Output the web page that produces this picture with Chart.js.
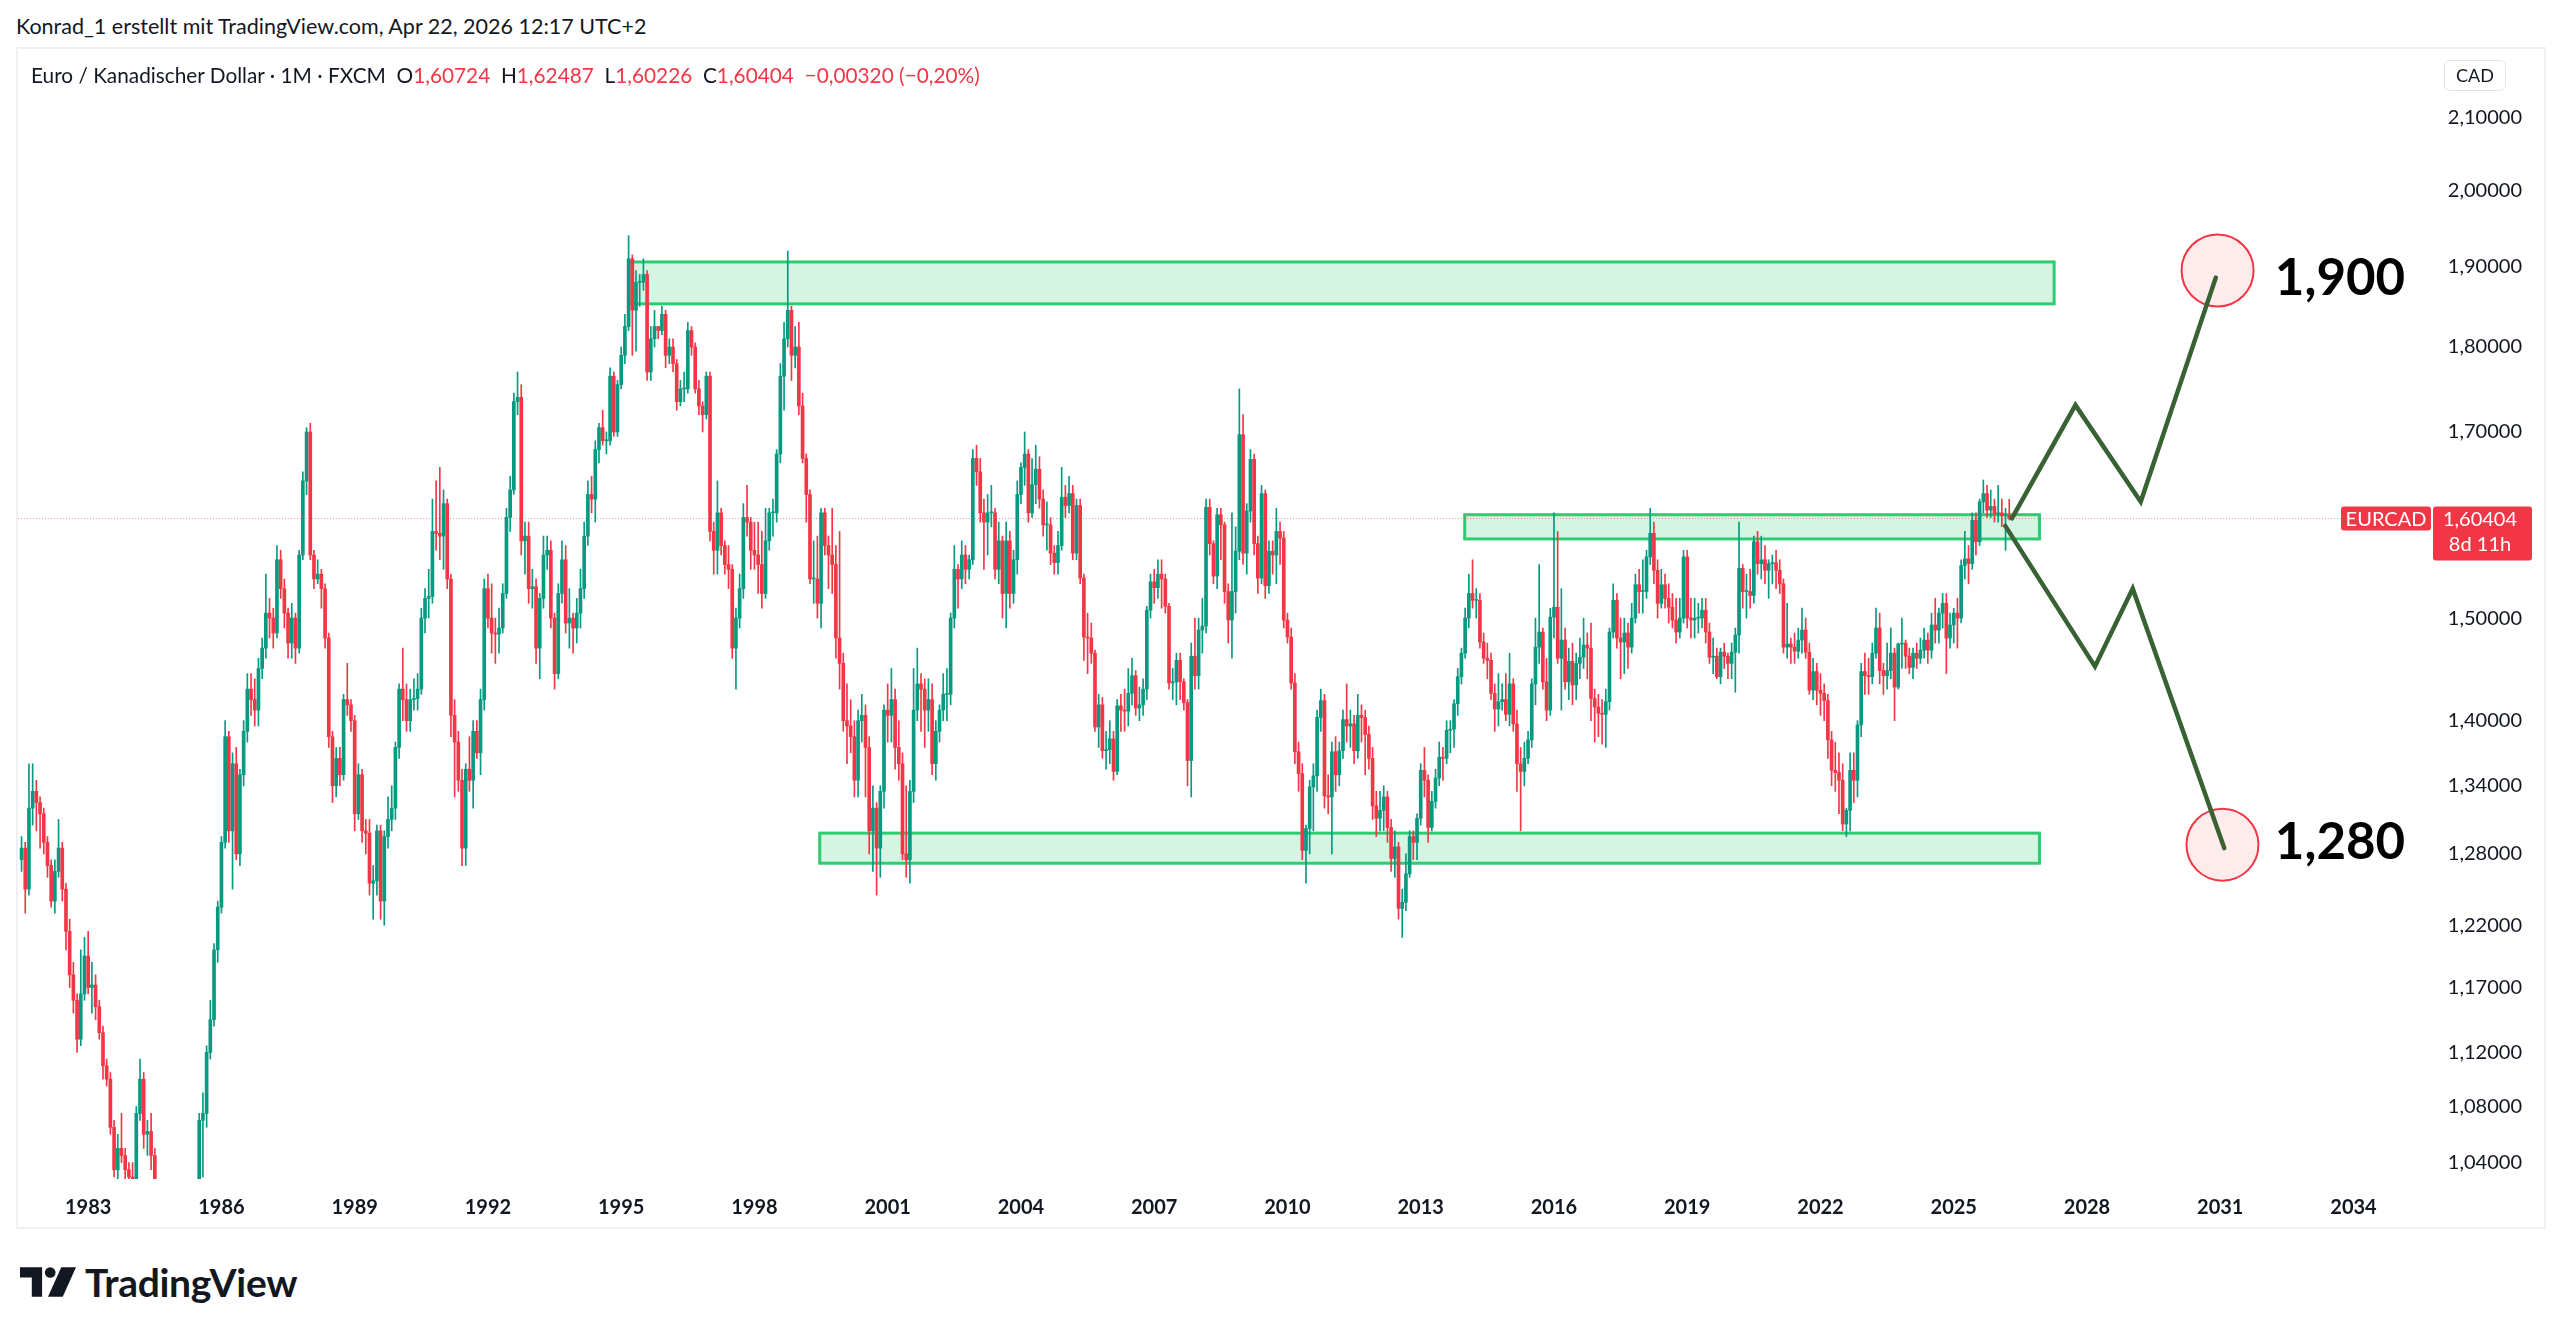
<!DOCTYPE html>
<html>
<head>
<meta charset="utf-8">
<title>EURCAD 1M</title>
<script src="https://cdn.jsdelivr.net/npm/chart.js@4.4.1/dist/chart.umd.min.js"></script>
<style>
    body { margin: 0; width: 2560px; height: 1335px; background: #fff; position: relative; overflow: hidden;
           font-family: Lato, "Open Sans", sans-serif; color: #131722; }
    #author { position: absolute; left: 16px; top: 13px; font-size: 21.5px; line-height: 26px; }
    #frame { position: absolute; left: 16px; top: 47px; width: 2530px; height: 1182px; box-sizing: border-box;
             border: 2px solid #eef0f3; }
    #wrap { position: absolute; left: 18px; top: 50px; width: 2527px; height: 1176px; }
    #legend { position: absolute; left: 31px; top: 62px; font-size: 20.8px; line-height: 26px; white-space: pre; }
    #legend .r { color: #f23645; }
    #cad { position: absolute; left: 2444px; top: 60px; width: 62px; height: 31px; box-sizing: border-box;
           border: 1px solid #e0e3eb; border-radius: 6px; font-size: 18px; line-height: 29px; text-align: center; }
    #logo { position: absolute; left: 20px; top: 1262px; height: 40px; display: flex; align-items: center; }
    #logo span { font-size: 39px; font-weight: 700; margin-left: 9px; letter-spacing: -0.3px; }
</style>
</head>
<body>

<div id="author">Konrad_1 erstellt mit TradingView.com, Apr 22, 2026 12:17 UTC+2</div>
<div id="frame"></div>
<div id="wrap"><canvas id="eurcadChart"></canvas></div>
<div id="legend">Euro / Kanadischer Dollar · 1M · FXCM  O<span class="r">1,60724</span>  H<span class="r">1,62487</span>  L<span class="r">1,60226</span>  C<span class="r">1,60404</span>  <span class="r">−0,00320 (−0,20%)</span></div>
<div id="cad">CAD</div>
<div id="logo">
    <svg width="56" height="30" viewBox="0 0 38 20">
        <path d="M0 0 H15 V20 H8 V7 H0 Z" fill="#131722"/>
        <circle cx="20.5" cy="3.6" r="3.6" fill="#131722"/>
        <path d="M28 0 H38 L29 20 H19 Z" fill="#131722"/>
    </svg>
    <span>TradingView</span>
</div>

<script>
// monthly candles, first one = Jul 1981
const firstMonth = 1981.5;
const firstOpen = 1.275;

const closes = [
    1.285, 1.25, 1.32, 1.335, 1.325, 1.315,
    1.29, 1.27, 1.24, 1.265, 1.285, 1.25, 1.215, 1.18, 1.16, 1.13, 1.165, 1.195,
    1.17, 1.172, 1.155, 1.135, 1.11, 1.10, 1.065, 1.035, 1.05, 1.045, 1.035, 1.03,
    1.02, 1.075, 1.10, 1.06, 1.062, 1.045, 1.00, 0.99, 0.97, 0.98, 0.96, 0.95,
    0.94, 0.96, 0.95, 0.93, 0.95, 0.98, 1.07, 1.075, 1.12, 1.145, 1.20, 1.235,
    1.29, 1.385, 1.30, 1.36, 1.28, 1.35, 1.39, 1.43, 1.42, 1.41, 1.45, 1.47,
    1.505, 1.50, 1.485, 1.56, 1.53, 1.505, 1.475, 1.50, 1.47, 1.565, 1.645, 1.70,
    1.565, 1.54, 1.545, 1.53, 1.48, 1.385, 1.34, 1.365, 1.35, 1.42, 1.415, 1.40,
    1.315, 1.35, 1.30, 1.298, 1.255, 1.257, 1.30, 1.24, 1.295, 1.31, 1.32, 1.375,
    1.43, 1.42, 1.40, 1.42, 1.421, 1.43, 1.50, 1.52, 1.522, 1.59, 1.588, 1.585,
    1.62, 1.54, 1.405, 1.38, 1.345, 1.285, 1.355, 1.345, 1.39, 1.37, 1.42, 1.53,
    1.50, 1.485, 1.484, 1.49, 1.525, 1.605, 1.635, 1.735, 1.74, 1.58, 1.585, 1.53,
    1.532, 1.47, 1.52, 1.565, 1.57, 1.50, 1.445, 1.525, 1.56, 1.495, 1.50, 1.49,
    1.505, 1.53, 1.585, 1.63, 1.625, 1.68, 1.705, 1.69, 1.69, 1.765, 1.70, 1.755,
    1.79, 1.825, 1.91, 1.845, 1.88, 1.88, 1.89, 1.77, 1.81, 1.825, 1.82, 1.84,
    1.79, 1.80, 1.78, 1.735, 1.75, 1.75, 1.82, 1.80, 1.75, 1.73, 1.72, 1.765,
    1.59, 1.57, 1.61, 1.575, 1.555, 1.55, 1.47, 1.50, 1.53, 1.605, 1.60, 1.57,
    1.565, 1.555, 1.525, 1.58, 1.61, 1.61, 1.675, 1.765, 1.81, 1.845, 1.79, 1.80,
    1.73, 1.67, 1.63, 1.54, 1.54, 1.515, 1.61, 1.575, 1.565, 1.555, 1.48, 1.455,
    1.40, 1.395, 1.385, 1.345, 1.40, 1.405, 1.375, 1.30, 1.32, 1.285, 1.335, 1.41,
    1.405, 1.42, 1.375, 1.36, 1.28, 1.275, 1.335, 1.41, 1.435, 1.43, 1.41, 1.42,
    1.36, 1.39, 1.41, 1.425, 1.425, 1.50, 1.55, 1.54, 1.565, 1.55, 1.56, 1.67,
    1.655, 1.61, 1.60, 1.61, 1.61, 1.55, 1.58, 1.525, 1.58, 1.525, 1.56, 1.63,
    1.66, 1.675, 1.61, 1.641, 1.658, 1.625, 1.597, 1.597, 1.567, 1.557, 1.575, 1.627,
    1.618, 1.631, 1.567, 1.618, 1.541, 1.481, 1.48, 1.465, 1.394, 1.415, 1.372, 1.373,
    1.383, 1.353, 1.414, 1.41, 1.409, 1.426, 1.443, 1.412, 1.415, 1.43, 1.508, 1.537,
    1.531, 1.545, 1.54, 1.512, 1.436, 1.437, 1.458, 1.437, 1.417, 1.363, 1.462, 1.443,
    1.488, 1.492, 1.616, 1.577, 1.543, 1.608, 1.597, 1.527, 1.498, 1.527, 1.569, 1.697,
    1.567, 1.612, 1.669, 1.577, 1.541, 1.631, 1.533, 1.569, 1.565, 1.59, 1.583, 1.498,
    1.481, 1.436, 1.371, 1.351, 1.283, 1.302, 1.339, 1.349, 1.403, 1.419, 1.331, 1.33,
    1.371, 1.35, 1.372, 1.401, 1.395, 1.397, 1.372, 1.405, 1.403, 1.387, 1.365, 1.322,
    1.311, 1.318, 1.33, 1.303, 1.276, 1.286, 1.234, 1.239, 1.263, 1.295, 1.29, 1.311,
    1.354, 1.345, 1.303, 1.326, 1.347, 1.366, 1.365, 1.391, 1.392, 1.416, 1.442, 1.465,
    1.50, 1.525, 1.518, 1.518, 1.476, 1.46, 1.458, 1.426, 1.411, 1.418, 1.42, 1.406,
    1.435, 1.397, 1.36, 1.353, 1.365, 1.382, 1.435, 1.471, 1.486, 1.437, 1.41, 1.501,
    1.511, 1.46, 1.478, 1.437, 1.457, 1.434, 1.455, 1.461, 1.473, 1.47, 1.421, 1.413,
    1.407, 1.406, 1.418, 1.486, 1.518, 1.48, 1.476, 1.485, 1.471, 1.50, 1.534, 1.527,
    1.527, 1.563, 1.588, 1.549, 1.515, 1.534, 1.52, 1.511, 1.498, 1.486, 1.50, 1.563,
    1.50, 1.498, 1.50, 1.50, 1.508, 1.486, 1.461, 1.462, 1.442, 1.466, 1.462, 1.455,
    1.466, 1.483, 1.551, 1.527, 1.527, 1.523, 1.579, 1.556, 1.56, 1.549, 1.556, 1.557,
    1.549, 1.535, 1.471, 1.474, 1.471, 1.467, 1.478, 1.488, 1.466, 1.429, 1.447, 1.429,
    1.426, 1.419, 1.382, 1.354, 1.352, 1.345, 1.306, 1.318, 1.354, 1.345, 1.396, 1.447,
    1.443, 1.442, 1.465, 1.49, 1.448, 1.443, 1.448, 1.465, 1.432, 1.474, 1.475, 1.462,
    1.451, 1.465, 1.46, 1.468, 1.478, 1.468, 1.493, 1.488, 1.505, 1.515, 1.48, 1.493,
    1.505, 1.50, 1.554, 1.561, 1.556, 1.602, 1.579, 1.622, 1.631, 1.613, 1.617, 1.609,
    1.61, 1.607, 1.60724, 1.60404
];

const highs = [
    1.295, 1.29, 1.36, 1.36, 1.345, 1.33,
    1.32, 1.295, 1.275, 1.275, 1.31, 1.29, 1.255, 1.225, 1.19, 1.165, 1.20, 1.21,
    1.215, 1.19, 1.18, 1.16, 1.14, 1.115, 1.105, 1.07, 1.06, 1.075, 1.05, 1.04,
    1.04, 1.08, 1.115, 1.105, 1.07, 1.075, 1.05, 1.01, 1.00, 0.99, 0.985, 0.97,
    0.96, 0.97, 0.97, 0.955, 0.96, 0.99, 1.075, 1.09, 1.125, 1.16, 1.205, 1.24,
    1.295, 1.40, 1.39, 1.37, 1.375, 1.355, 1.40, 1.445, 1.445, 1.44, 1.46, 1.48,
    1.545, 1.52, 1.51, 1.575, 1.57, 1.54, 1.51, 1.515, 1.505, 1.57, 1.655, 1.705,
    1.71, 1.57, 1.56, 1.55, 1.535, 1.485, 1.39, 1.375, 1.375, 1.425, 1.455, 1.42,
    1.405, 1.36, 1.355, 1.31, 1.31, 1.27, 1.305, 1.305, 1.30, 1.33, 1.34, 1.38,
    1.435, 1.47, 1.435, 1.43, 1.44, 1.445, 1.51, 1.53, 1.55, 1.625, 1.645, 1.66,
    1.635, 1.625, 1.545, 1.42, 1.39, 1.355, 1.36, 1.385, 1.40, 1.40, 1.43, 1.54,
    1.545, 1.535, 1.50, 1.51, 1.535, 1.615, 1.65, 1.745, 1.77, 1.755, 1.60, 1.60,
    1.55, 1.54, 1.525, 1.585, 1.585, 1.58, 1.505, 1.535, 1.58, 1.575, 1.53, 1.505,
    1.52, 1.55, 1.60, 1.645, 1.65, 1.69, 1.71, 1.725, 1.70, 1.775, 1.77, 1.76,
    1.80, 1.84, 1.94, 1.915, 1.895, 1.89, 1.91, 1.895, 1.825, 1.845, 1.825, 1.85,
    1.845, 1.81, 1.81, 1.785, 1.76, 1.77, 1.83, 1.825, 1.805, 1.76, 1.735, 1.77,
    1.77, 1.60, 1.645, 1.615, 1.58, 1.575, 1.555, 1.51, 1.545, 1.62, 1.64, 1.605,
    1.60, 1.60, 1.59, 1.615, 1.615, 1.625, 1.68, 1.78, 1.83, 1.92, 1.85, 1.825,
    1.83, 1.745, 1.675, 1.635, 1.58, 1.585, 1.615, 1.615, 1.585, 1.615, 1.575, 1.59,
    1.465, 1.435, 1.42, 1.40, 1.41, 1.425, 1.415, 1.385, 1.34, 1.325, 1.34, 1.415,
    1.435, 1.45, 1.43, 1.40, 1.37, 1.34, 1.345, 1.45, 1.47, 1.445, 1.44, 1.44,
    1.435, 1.40, 1.415, 1.445, 1.45, 1.505, 1.575, 1.555, 1.58, 1.575, 1.565, 1.68,
    1.685, 1.67, 1.625, 1.63, 1.64, 1.615, 1.60, 1.585, 1.60, 1.59, 1.57, 1.645,
    1.665, 1.70, 1.68, 1.67, 1.685, 1.672, 1.635, 1.622, 1.605, 1.575, 1.59, 1.66,
    1.64, 1.65, 1.64, 1.625, 1.625, 1.545, 1.505, 1.495, 1.468, 1.425, 1.422, 1.39,
    1.40, 1.39, 1.42, 1.425, 1.43, 1.45, 1.46, 1.448, 1.432, 1.44, 1.512, 1.545,
    1.55, 1.56, 1.56, 1.545, 1.515, 1.45, 1.465, 1.465, 1.44, 1.42, 1.475, 1.50,
    1.50, 1.52, 1.625, 1.625, 1.58, 1.615, 1.615, 1.60, 1.535, 1.61, 1.595, 1.75,
    1.72, 1.62, 1.68, 1.675, 1.585, 1.64, 1.635, 1.58, 1.58, 1.615, 1.60, 1.59,
    1.505, 1.49, 1.445, 1.38, 1.36, 1.305, 1.345, 1.36, 1.41, 1.43, 1.425, 1.35,
    1.38, 1.385, 1.38, 1.41, 1.435, 1.41, 1.405, 1.425, 1.415, 1.41, 1.395, 1.375,
    1.335, 1.335, 1.34, 1.335, 1.31, 1.30, 1.29, 1.25, 1.28, 1.30, 1.30, 1.315,
    1.36, 1.375, 1.35, 1.335, 1.355, 1.38, 1.375, 1.40, 1.40, 1.42, 1.45, 1.47,
    1.51, 1.545, 1.56, 1.53, 1.525, 1.485, 1.475, 1.465, 1.435, 1.445, 1.435, 1.445,
    1.465, 1.44, 1.41, 1.375, 1.38, 1.39, 1.44, 1.50, 1.555, 1.49, 1.46, 1.51,
    1.61, 1.59, 1.53, 1.49, 1.47, 1.475, 1.465, 1.48, 1.50, 1.485, 1.495, 1.43,
    1.425, 1.42, 1.43, 1.49, 1.535, 1.525, 1.50, 1.50, 1.495, 1.515, 1.545, 1.55,
    1.56, 1.57, 1.615, 1.60, 1.56, 1.55, 1.545, 1.535, 1.525, 1.52, 1.52, 1.57,
    1.57, 1.52, 1.52, 1.515, 1.52, 1.52, 1.495, 1.48, 1.47, 1.47, 1.475, 1.465,
    1.475, 1.49, 1.60, 1.555, 1.545, 1.55, 1.585, 1.59, 1.585, 1.575, 1.56, 1.565,
    1.57, 1.56, 1.54, 1.515, 1.48, 1.485, 1.49, 1.51, 1.50, 1.475, 1.46, 1.455,
    1.445, 1.435, 1.425, 1.39, 1.38, 1.37, 1.36, 1.32, 1.37, 1.37, 1.40, 1.455,
    1.465, 1.46, 1.475, 1.51, 1.505, 1.455, 1.475, 1.49, 1.47, 1.475, 1.50, 1.478,
    1.47, 1.47, 1.475, 1.48, 1.49, 1.485, 1.505, 1.52, 1.51, 1.525, 1.525, 1.505,
    1.51, 1.52, 1.56, 1.59, 1.575, 1.61, 1.61, 1.625, 1.646, 1.64, 1.635, 1.625,
    1.64, 1.625, 1.615, 1.62487
];

const lows = [
    1.265, 1.23, 1.245, 1.305, 1.30, 1.285,
    1.28, 1.26, 1.235, 1.23, 1.26, 1.24, 1.20, 1.17, 1.15, 1.12, 1.125, 1.16,
    1.165, 1.15, 1.145, 1.13, 1.10, 1.095, 1.06, 1.03, 1.025, 1.04, 1.02, 1.02,
    1.01, 1.015, 1.07, 1.05, 1.045, 1.035, 0.99, 0.98, 0.96, 0.96, 0.95, 0.94,
    0.93, 0.93, 0.94, 0.92, 0.925, 0.945, 0.975, 1.03, 1.065, 1.115, 1.14, 1.19,
    1.23, 1.285, 1.29, 1.25, 1.275, 1.27, 1.34, 1.38, 1.405, 1.395, 1.395, 1.44,
    1.46, 1.48, 1.47, 1.48, 1.52, 1.49, 1.46, 1.46, 1.455, 1.465, 1.56, 1.63,
    1.56, 1.53, 1.535, 1.51, 1.47, 1.375, 1.325, 1.33, 1.34, 1.345, 1.405, 1.39,
    1.30, 1.31, 1.29, 1.28, 1.245, 1.225, 1.245, 1.225, 1.22, 1.285, 1.30, 1.31,
    1.365, 1.40, 1.39, 1.39, 1.41, 1.41, 1.425, 1.485, 1.50, 1.515, 1.57, 1.56,
    1.55, 1.53, 1.385, 1.33, 1.335, 1.27, 1.27, 1.335, 1.32, 1.365, 1.35, 1.41,
    1.49, 1.465, 1.455, 1.465, 1.485, 1.52, 1.59, 1.63, 1.72, 1.565, 1.545, 1.515,
    1.51, 1.455, 1.44, 1.51, 1.55, 1.49, 1.43, 1.44, 1.515, 1.485, 1.47, 1.465,
    1.475, 1.49, 1.52, 1.575, 1.61, 1.60, 1.665, 1.685, 1.675, 1.685, 1.695, 1.695,
    1.75, 1.78, 1.82, 1.79, 1.795, 1.85, 1.87, 1.76, 1.76, 1.80, 1.81, 1.815,
    1.775, 1.78, 1.77, 1.725, 1.73, 1.735, 1.745, 1.79, 1.745, 1.72, 1.70, 1.715,
    1.58, 1.545, 1.545, 1.565, 1.545, 1.53, 1.46, 1.43, 1.49, 1.52, 1.585, 1.55,
    1.55, 1.525, 1.51, 1.52, 1.57, 1.585, 1.60, 1.665, 1.725, 1.80, 1.76, 1.775,
    1.72, 1.665, 1.60, 1.535, 1.515, 1.50, 1.49, 1.565, 1.53, 1.525, 1.46, 1.43,
    1.39, 1.36, 1.37, 1.33, 1.33, 1.38, 1.33, 1.28, 1.265, 1.245, 1.26, 1.32,
    1.38, 1.38, 1.355, 1.345, 1.275, 1.26, 1.255, 1.325, 1.40, 1.39, 1.375, 1.39,
    1.35, 1.345, 1.38, 1.40, 1.40, 1.415, 1.49, 1.51, 1.53, 1.535, 1.54, 1.555,
    1.64, 1.60, 1.55, 1.565, 1.595, 1.54, 1.535, 1.50, 1.49, 1.51, 1.515, 1.545,
    1.62, 1.64, 1.60, 1.605, 1.62, 1.615, 1.585, 1.57, 1.555, 1.545, 1.545, 1.57,
    1.605, 1.61, 1.56, 1.56, 1.535, 1.458, 1.445, 1.455, 1.39, 1.375, 1.365, 1.355,
    1.36, 1.345, 1.35, 1.39, 1.39, 1.395, 1.415, 1.405, 1.40, 1.405, 1.42, 1.50,
    1.515, 1.52, 1.51, 1.505, 1.43, 1.42, 1.415, 1.42, 1.41, 1.34, 1.33, 1.43,
    1.43, 1.465, 1.485, 1.565, 1.535, 1.53, 1.56, 1.515, 1.475, 1.46, 1.505, 1.56,
    1.555, 1.545, 1.60, 1.565, 1.525, 1.535, 1.52, 1.525, 1.545, 1.535, 1.555, 1.49,
    1.475, 1.43, 1.36, 1.335, 1.275, 1.255, 1.28, 1.30, 1.335, 1.39, 1.32, 1.315,
    1.28, 1.335, 1.34, 1.365, 1.38, 1.375, 1.36, 1.365, 1.38, 1.35, 1.355, 1.31,
    1.295, 1.30, 1.30, 1.29, 1.265, 1.26, 1.225, 1.21, 1.232, 1.26, 1.275, 1.275,
    1.305, 1.33, 1.29, 1.30, 1.32, 1.34, 1.345, 1.36, 1.37, 1.375, 1.405, 1.435,
    1.46, 1.49, 1.51, 1.50, 1.47, 1.455, 1.44, 1.42, 1.39, 1.395, 1.41, 1.40,
    1.395, 1.39, 1.335, 1.30, 1.34, 1.36, 1.375, 1.415, 1.455, 1.43, 1.40, 1.405,
    1.48, 1.455, 1.41, 1.43, 1.42, 1.415, 1.42, 1.44, 1.45, 1.44, 1.40, 1.38,
    1.385, 1.378, 1.375, 1.41, 1.48, 1.47, 1.44, 1.445, 1.45, 1.465, 1.495, 1.505,
    1.505, 1.52, 1.555, 1.535, 1.50, 1.51, 1.51, 1.495, 1.49, 1.475, 1.48, 1.495,
    1.49, 1.48, 1.48, 1.485, 1.49, 1.475, 1.455, 1.445, 1.44, 1.435, 1.45, 1.44,
    1.44, 1.427, 1.465, 1.51, 1.50, 1.51, 1.515, 1.545, 1.54, 1.535, 1.52, 1.535,
    1.53, 1.525, 1.465, 1.46, 1.455, 1.455, 1.46, 1.465, 1.46, 1.425, 1.42, 1.415,
    1.405, 1.40, 1.365, 1.34, 1.335, 1.315, 1.30, 1.295, 1.30, 1.325, 1.33, 1.385,
    1.425, 1.425, 1.435, 1.46, 1.435, 1.425, 1.43, 1.44, 1.40, 1.43, 1.45, 1.45,
    1.445, 1.44, 1.45, 1.455, 1.46, 1.455, 1.46, 1.475, 1.475, 1.49, 1.445, 1.47,
    1.475, 1.47, 1.495, 1.54, 1.535, 1.55, 1.565, 1.575, 1.61, 1.605, 1.605, 1.60,
    1.60, 1.595, 1.57, 1.60226
];

// axis ticks
const priceTicks = [1.04, 1.08, 1.12, 1.17, 1.22, 1.28, 1.34, 1.40, 1.50, 1.70, 1.80, 1.90, 2.00, 2.10];
const yearTicks = [1983, 1986, 1989, 1992, 1995, 1998, 2001, 2004, 2007, 2010, 2013, 2016, 2019, 2022, 2025, 2028, 2031, 2034];

// drawings: rectangles (time from/to, price low/high)
const zoneFrom = [1995.17, 2013.99, 1999.47];
const zoneTo = [2027.26, 2026.93, 2026.93];
const zoneLow = [1.853, 1.582, 1.272];
const zoneHigh = [1.906, 1.608, 1.298];

// drawn paths
const upPathTime = [2026.31, 2027.74, 2029.21, 2030.90];
const upPathPrice = [1.604, 1.731, 1.622, 1.886];
const downPathTime = [2026.16, 2028.18, 2029.03, 2031.09];
const downPathPrice = [1.596, 1.452, 1.530, 1.285];

// target circles and their labels
const targetTime = [2030.94, 2031.05];
const targetPrice = [1.895, 1.288];
const targetText = ['1,900', '1,280'];
const targetTextTime = [2032.23, 2032.23];
const targetTextPrice = [1.885, 1.290];

const UP = '#089981';
const DOWN = '#f23645';
const comma = (v, d) => v.toFixed(d).replace('.', ',');

const opens = closes.map((c, i) => i === 0 ? firstOpen : closes[i - 1]);
const times = closes.map((c, i) => firstMonth + i / 12);
const colors = closes.map((c, i) => c >= opens[i] ? UP : DOWN);
const lastClose = closes[closes.length - 1];

const wickData = times.map((t, i) => ({
    x: t,
    y: [Math.min(lows[i], opens[i], closes[i]), Math.max(highs[i], opens[i], closes[i])]
}));
const bodyData = times.map((t, i) => ({ x: t, y: [opens[i], closes[i]] }));

const drawings = {
    id: 'drawings',
    beforeDatasetsDraw(chart) {
        const { ctx, chartArea, scales: { x, y } } = chart;
        ctx.save();
        // zones
        for (let i = 0; i < zoneFrom.length; i++) {
            const x0 = x.getPixelForValue(zoneFrom[i]);
            const x1 = x.getPixelForValue(zoneTo[i]);
            const y0 = y.getPixelForValue(zoneHigh[i]);
            const y1 = y.getPixelForValue(zoneLow[i]);
            ctx.fillStyle = 'rgba(46, 204, 113, 0.2)';
            ctx.fillRect(x0, y0, x1 - x0, y1 - y0);
            ctx.strokeStyle = '#2ecc71';
            ctx.lineWidth = 3;
            ctx.strokeRect(x0, y0, x1 - x0, y1 - y0);
        }
        // last price line
        const py = Math.round(y.getPixelForValue(lastClose)) + 0.5;
        ctx.strokeStyle = 'rgba(242, 54, 69, 0.55)';
        ctx.lineWidth = 1;
        ctx.setLineDash([1, 2]);
        ctx.beginPath();
        ctx.moveTo(chartArea.left, py);
        ctx.lineTo(chartArea.right - 92, py);
        ctx.stroke();
        ctx.restore();
    },
    afterDatasetsDraw(chart) {
        const { ctx, scales: { x, y } } = chart;
        ctx.save();
        ctx.fillStyle = '#000';
        ctx.font = 'bold 51px Lato';
        ctx.textBaseline = 'middle';
        for (let i = 0; i < targetText.length; i++) {
            ctx.fillText(targetText[i], x.getPixelForValue(targetTextTime[i]), y.getPixelForValue(targetTextPrice[i]));
        }
        ctx.restore();
    },
    afterDraw(chart) {
        const { ctx, chartArea, scales: { y } } = chart;
        const py = y.getPixelForValue(lastClose);
        ctx.save();
        ctx.fillStyle = DOWN;
        // symbol tag
        ctx.beginPath();
        ctx.roundRect(chartArea.right - 92, py - 12, 90, 24, 3);
        ctx.fill();
        // price tag
        ctx.beginPath();
        ctx.roundRect(chartArea.right, py - 12, 99, 54, 3);
        ctx.fill();
        ctx.fillStyle = '#fff';
        ctx.textBaseline = 'middle';
        ctx.textAlign = 'center';
        ctx.font = '20px Lato';
        ctx.fillText('EURCAD', chartArea.right - 47, py + 1);
        ctx.fillText(comma(lastClose, 5), chartArea.right + 47, py + 1);
        ctx.fillText('8d 11h', chartArea.right + 47, py + 26);
        ctx.restore();
    }
};

const ctx = document.getElementById('eurcadChart').getContext('2d');
new Chart(ctx, {
    type: 'bar',
    data: {
        datasets: [
            {
                type: 'line',
                data: upPathTime.map((t, i) => ({ x: t, y: upPathPrice[i] })),
                borderColor: '#386234',
                borderWidth: 4.5,
                pointRadius: 0,
                borderCapStyle: 'round',
                order: 1
            },
            {
                type: 'line',
                data: downPathTime.map((t, i) => ({ x: t, y: downPathPrice[i] })),
                borderColor: '#386234',
                borderWidth: 4.5,
                pointRadius: 0,
                borderCapStyle: 'round',
                order: 1
            },
            {
                type: 'line',
                data: targetTime.map((t, i) => ({ x: t, y: targetPrice[i] })),
                showLine: false,
                pointRadius: 36,
                pointBackgroundColor: 'rgba(242, 54, 69, 0.1)',
                pointBorderColor: '#f23645',
                pointBorderWidth: 2,
                clip: false,
                order: 2
            },
            {
                data: bodyData,
                backgroundColor: colors,
                barThickness: 3,
                minBarLength: 1,
                grouped: false,
                order: 3
            },
            {
                data: wickData,
                backgroundColor: colors,
                barThickness: 1,
                grouped: false,
                order: 4
            }
        ]
    },
    options: {
        responsive: true,
        maintainAspectRatio: false,
        animation: false,
        layout: { autoPadding: false, padding: { left: 0, right: 23, top: 0, bottom: 0 } },
        plugins: {
            legend: { display: false },
            tooltip: { enabled: false }
        },
        scales: {
            x: {
                type: 'linear',
                min: 1981.42,
                max: 2035.79,
                offset: false,
                grid: { display: false },
                border: { display: false },
                afterBuildTicks: axis => { axis.ticks = yearTicks.map(v => ({ value: v })); },
                afterFit: axis => {
                    axis.height = 47;
                    axis.paddingLeft = 0;
                    axis.paddingRight = 0;
                },
                ticks: {
                    autoSkip: false,
                    maxRotation: 0,
                    padding: 9,
                    color: '#131722',
                    font: { family: 'Lato', size: 20, weight: 'bold' },
                    callback: v => String(v)
                }
            },
            y: {
                type: 'logarithmic',
                position: 'right',
                min: 1.0286,
                max: 2.198,
                grid: { display: false },
                border: { display: false },
                afterBuildTicks: axis => { axis.ticks = priceTicks.map(v => ({ value: v })); },
                afterFit: axis => {
                    axis.width = 89;
                    axis.paddingTop = 0;
                    axis.paddingBottom = 0;
                },
                ticks: {
                    autoSkip: false,
                    crossAlign: 'far',
                    color: '#131722',
                    font: { family: 'Lato', size: 20 },
                    callback: v => comma(v, 5)
                }
            }
        }
    },
    plugins: [drawings]
});
</script>
</body>
</html>
